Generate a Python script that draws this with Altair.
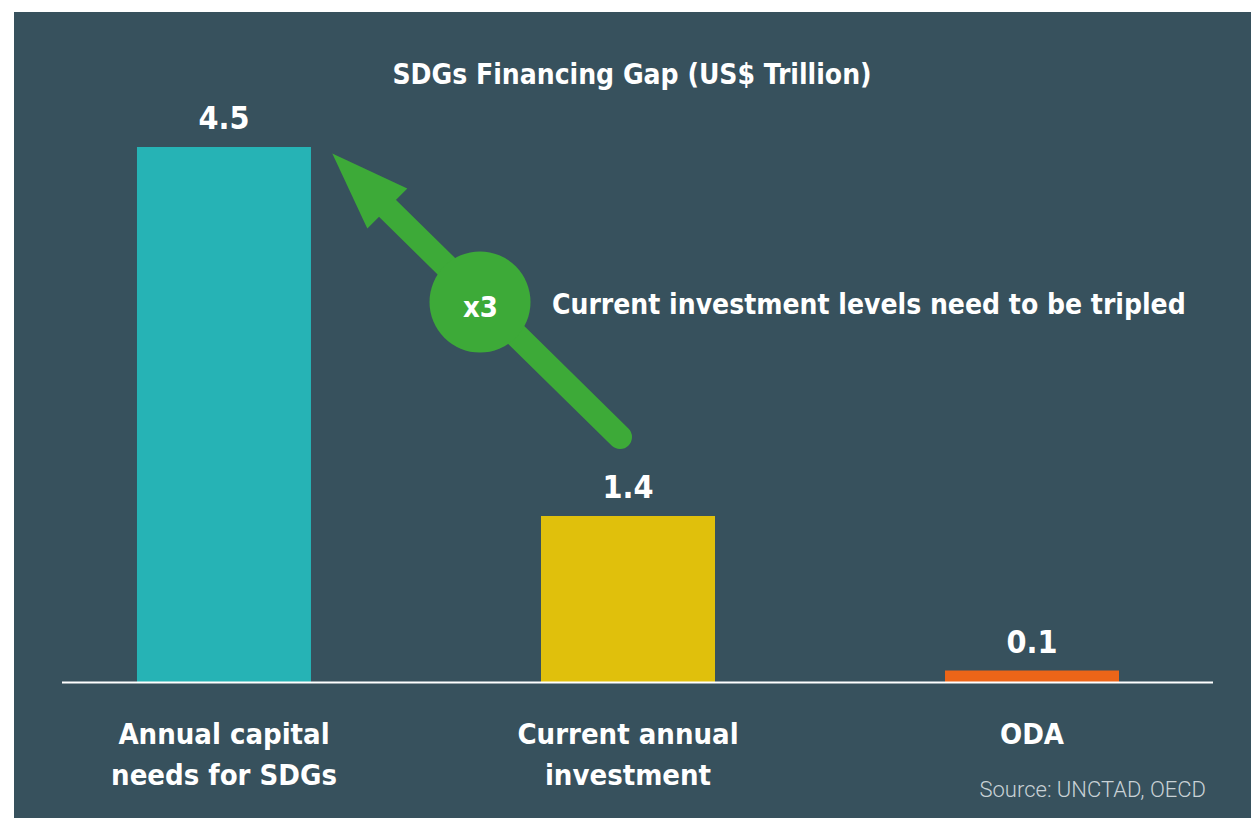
import altair as alt
import pandas as pd

# ---- data ----
categories = ["Annual capital needs for SDGs", "Current annual investment", "ODA"]
cat_labels = ["Annual capital\nneeds for SDGs", "Current annual\ninvestment", "ODA"]
values = [4.5, 1.4, 0.1]
value_text = ["4.5", "1.4", "0.1"]
bar_colors = ["#26B3B5", "#E0C00C", "#EC6518"]

title_text = "SDGs Financing Gap (US$ Trillion)"
note_text = "Current investment levels need to be tripled"
badge_text = "x3"
source_text = "Source: UNCTAD, OECD"

BG = "#37515D"
GREEN = "#3DAA38"
FONT = "DejaVu Sans Condensed, Liberation Sans Narrow, sans-serif"

df = pd.DataFrame({"cat": categories, "label": cat_labels, "value": values, "vtext": value_text})

W, H = 1237, 806

xscale = alt.Scale(domain=categories, range=[8, 1220], paddingInner=0.5693, paddingOuter=0.2846)
yscale = alt.Scale(domain=[-1.1387, 5.6345], nice=False, zero=False)
X = alt.X("cat:N", sort=None, scale=xscale, axis=None)
Y = alt.Y("value:Q", scale=yscale, axis=None)

base = alt.Chart(df)

bars = base.mark_bar().encode(
    x=X, y=Y,
    color=alt.Color("cat:N", scale=alt.Scale(domain=categories, range=bar_colors), legend=None),
)

baseline = alt.Chart(pd.DataFrame({"z": [0]})).mark_rule(color="white", strokeWidth=2).encode(
    x=alt.value(48), x2=alt.value(1199), y=alt.Y("z:Q", scale=yscale, axis=None)
)

vlabels = base.mark_text(font=FONT, fontWeight="bold", fontSize=32, color="white",
                         baseline="alphabetic", dy=-18).encode(x=X, y=Y, text="vtext:N")

clabels = base.mark_text(font=FONT, fontWeight="bold", fontSize=29, color="white",
                         baseline="alphabetic", lineBreak="\n", lineHeight=41).encode(
    x=X, y=alt.value(732), text="label:N")

one = pd.DataFrame({"a": [0]})

shaft = alt.Chart(one).mark_rule(color=GREEN, strokeWidth=24, strokeCap="round").encode(
    x=alt.value(606), y=alt.value(425), x2=alt.value(366), y2=alt.value(189))

head = alt.Chart(one).mark_point(shape="M0,-1L0.727,1L-0.727,1Z", filled=True, opacity=1,
                                 color=GREEN, size=6050, angle=315).encode(
    x=alt.value(345.8), y=alt.value(169))

badge = alt.Chart(one).mark_point(shape="circle", filled=True, opacity=1, color=GREEN,
                                  size=10201).encode(x=alt.value(466), y=alt.value(290))

badge_t = alt.Chart(one).mark_text(text=badge_text, font=FONT, fontWeight="bold", fontSize=29,
                                   color="white", baseline="alphabetic").encode(
    x=alt.value(466.5), y=alt.value(305))

note = alt.Chart(one).mark_text(text=note_text, font=FONT, fontWeight="bold", fontSize=28,
                                color="white", align="left", baseline="alphabetic").encode(
    x=alt.value(538), y=alt.value(302))

title = alt.Chart(one).mark_text(text=title_text, font=FONT, fontWeight="bold", fontSize=28,
                                 color="white", baseline="alphabetic").encode(
    x=alt.value(618), y=alt.value(72))

source = alt.Chart(one).mark_text(text=source_text, font="Roboto", fontWeight=300, fontSize=22,
                                  color="#C9D2D6", align="right", baseline="alphabetic").encode(
    x=alt.value(1192), y=alt.value(785))

chart = alt.layer(bars, baseline, vlabels, clabels, shaft, head, badge, badge_t, note, title, source).properties(
    width=W, height=H,
    autosize=alt.AutoSizeParams(type="none"),
    padding={"left": 6, "top": 4, "right": 0, "bottom": 0},
    background="white",
).configure_view(fill=BG, stroke=None)

chart.save("out.html", embed_options={"renderer": "svg", "actions": False})
